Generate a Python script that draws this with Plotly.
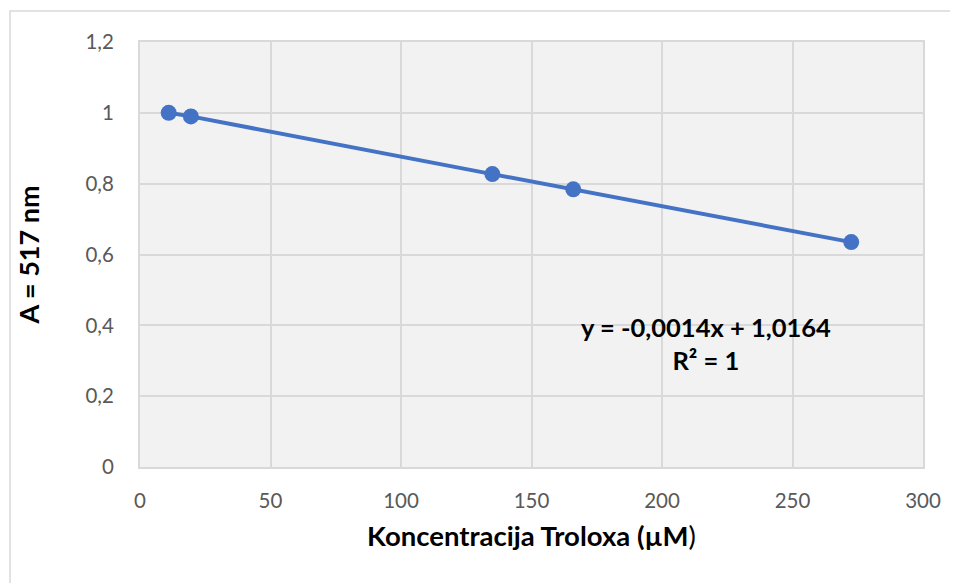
import plotly.graph_objects as go

# Data
concentration = [11, 19.5, 135, 166, 272.5]      # Koncentracija Troloxa (µM)
absorbance = [1.0, 0.99, 0.827, 0.784, 0.635]     # A = 517 nm
x_ticks = [0, 50, 100, 150, 200, 250, 300]
y_ticks = [0, 0.2, 0.4, 0.6, 0.8, 1.0, 1.2]
equation_text = "y = -0,0014x + 1,0164<br>R² = 1"

BLUE = "#4472C4"
GRID = "#D9D9D9"
TICK = "#595959"
FONT = "Lato, 'Open Sans', sans-serif"

fig = go.Figure()
fig.add_trace(go.Scatter(
    x=concentration, y=absorbance, mode="lines+markers",
    line=dict(color=BLUE, width=4),
    marker=dict(color=BLUE, size=16),
    showlegend=False, hoverinfo="x+y",
))

fig.update_layout(
    width=958, height=583,
    margin=dict(l=132, r=43, t=34, b=124),
    paper_bgcolor="white",
    plot_bgcolor="#F2F2F2",
    separators=", ",
    font=dict(family=FONT, color=TICK, size=20),
    xaxis=dict(
        range=[0, 300], tickvals=x_ticks, showgrid=True, gridcolor=GRID, gridwidth=1.5,
        zeroline=False, showline=True, linecolor=GRID, linewidth=2, mirror=True,
        ticks="", ticklabelstandoff=14, tickfont=dict(size=20.5, color=TICK),
        title=dict(text="<b>Koncentracija Troloxa (µM</b>)", standoff=16,
                   font=dict(size=27.5, color="black")),
        fixedrange=True,
    ),
    yaxis=dict(
        range=[0, 1.2], tickvals=y_ticks, showgrid=True, gridcolor=GRID, gridwidth=1.5,
        zeroline=False, showline=True, linecolor=GRID, linewidth=2, mirror=True,
        ticks="", ticklabelstandoff=20, tickfont=dict(size=20.5, color=TICK),
        title=dict(text="<b>A = 517 nm</b>", standoff=38,
                   font=dict(size=27, color="black")),
        fixedrange=True,
    ),
    annotations=[dict(
        text="<b>" + equation_text + "</b>", x=217, y=0.442, xref="x", yref="y",
        yanchor="top", showarrow=False, align="center",
        font=dict(size=25.5, color="black", family=FONT),
    )],
    shapes=[dict(
        type="rect", xref="paper", yref="paper",
        x0=-0.166, x1=1.2, y0=-0.4, y1=1.073,
        line=dict(color=GRID, width=1.5), fillcolor="rgba(0,0,0,0)", layer="below",
    )],
)

fig.write_html("out.html")
